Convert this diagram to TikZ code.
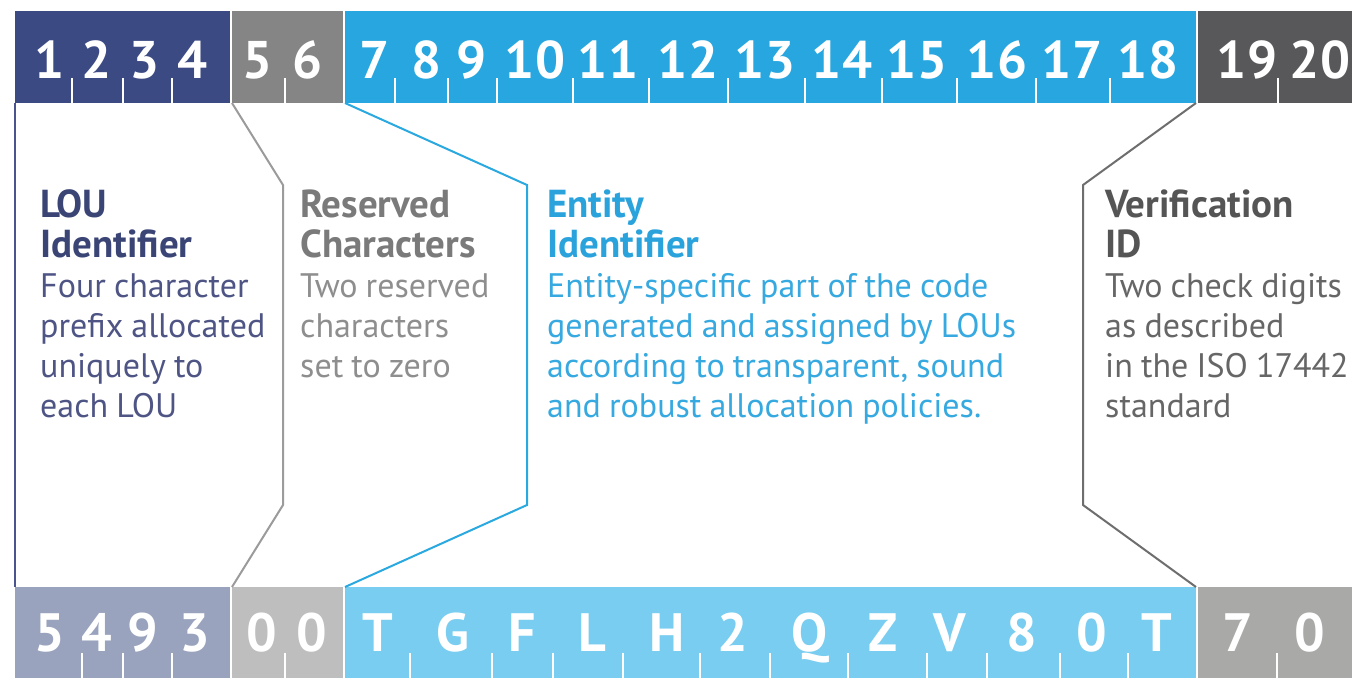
\documentclass[tikz,border=0pt]{standalone}
\usepackage{fontspec}
\setmainfont{PT Sans}
\usetikzlibrary{positioning}
\definecolor{louTop}{HTML}{3C4A84}
\definecolor{resTop}{HTML}{858585}
\definecolor{entTop}{HTML}{27A6DF}
\definecolor{verTop}{HTML}{58585A}
\definecolor{louBot}{HTML}{9AA3BE}
\definecolor{resBot}{HTML}{BEBEBE}
\definecolor{entBot}{HTML}{79CDF0}
\definecolor{verBot}{HTML}{A9A9A7}
\definecolor{louTitle}{HTML}{3A4576}
\definecolor{louBody}{HTML}{4E5585}
\definecolor{resTitle}{HTML}{7A7A7A}
\definecolor{resBody}{HTML}{8E8E8E}
\definecolor{entTitle}{HTML}{2AA3DD}
\definecolor{entBody}{HTML}{36A9E0}
\definecolor{verTitle}{HTML}{555555}
\definecolor{verBody}{HTML}{666666}
\definecolor{louLine}{HTML}{4A5590}
\definecolor{resLine}{HTML}{9B9B9B}
\definecolor{entLine}{HTML}{2AA8E0}
\definecolor{verLine}{HTML}{6E6E6E}
\newcommand{\ttl}[2]{{\fontsize{39}{40}\selectfont\bfseries\color{#1}#2}}
\newcommand{\tightsp}{\spaceskip=0.24em\relax}
\tikzset{
        seg/.style={rectangle, inner sep=0pt, outer sep=0pt},
        topseg/.style={seg, minimum height=92pt},
        botseg/.style={seg, minimum height=91pt},
        digit/.style={anchor=base, inner sep=0pt, text=white,
                      font=\bfseries\fontsize{53}{53}\selectfont},
        code/.style={digit, font=\bfseries\fontsize{54}{54}\selectfont},
        tick/.style={draw=white, line width=1.5pt},
        conn/.style={line width=2pt},
        desc/.style={anchor=base west, inner sep=0pt, align=left,
                     text width=#1, font=\fontsize{34}{40}\selectfont},
 }

\begin{document}
\begin{tikzpicture}[x=1pt, y=-1pt]
    \fill[white] (0,0) rectangle (1352,678);
    \useasboundingbox (0,0) rectangle (1352,678);

    % top bar
    \node[topseg, fill=louTop, minimum width=215pt, anchor=north west]
         (tlou) at (15,11) {};
    \node[topseg, fill=resTop, minimum width=111pt, right=2pt of tlou] (tres) {};
    \node[topseg, fill=entTop, minimum width=851pt, right=2pt of tres] (tent) {};
    \node[topseg, fill=verTop, minimum width=154pt, right=2pt of tent] (tver) {};

    % bottom bar
    \node[botseg, fill=louBot, minimum width=215pt, anchor=north west]
         (blou) at (15,587) {};
    \node[botseg, fill=resBot, minimum width=111pt, right=2pt of blou] (bres) {};
    \node[botseg, fill=entBot, minimum width=851pt, right=2pt of bres] (bent) {};
    \node[botseg, fill=verBot, minimum width=154pt, right=2pt of bent] (bver) {};

    \foreach \x in {72,123,172,285,395,448,497,573,649,728,805,882,957,1036,1110,1278}
        \draw[tick] (\x,78) -- (\x,103);
    \foreach \x in {82,123,172,285,410,492,553,623,700,770,848,927,987,1060,1128,1277}
        \draw[tick] (\x,653) -- (\x,678);

    \foreach \x/\d in {50/1,97/2,145/3,193/4,258/5,308/6,375/7,427/8,472/9,
                       535/10,608/11,688/12,765/13,842/14,917/15,997/16,
                       1072/17,1148/18,1247/19,1320/20}
        \node[digit] (d\d) at (\x,78) {\d};
    \foreach \x/\c [count=\i] in {50/5,97/4,143/9,195/3,262/0,312/0,378/T,
                       453/G,522/F,592/L,667/H,733/2,810/Q,883/Z,950/V,
                       1022/8,1092/0,1157/T,1238/7,1310/0}
        \node[code] (c\i) at (\x,651) {\c};

    % bends of the connectors
    \coordinate (resA) at (283,185);
    \coordinate (resB) at (283,505);
    \coordinate (entA) at (527,185);
    \coordinate (entB) at (527,505);
    \coordinate (verA) at (1083,185);
    \coordinate (verB) at (1083,505);

    \draw[conn, draw=louLine] (tlou.south west) -- (blou.north west);
    \draw[conn, draw=resLine] (tres.south west) -- (resA) -- (resB)
         -- (bres.north west);
    \draw[conn, draw=entLine] (tent.south west) -- (entA) -- (entB)
         -- (bent.north west);
    \draw[conn, draw=verLine] (tent.south east) -- (verA) -- (verB)
         -- (bent.north east);

    \node[desc=300pt, text=louBody] (lou) at (40,217)
         {\tightsp\ttl{louTitle}{LOU}\\ \ttl{louTitle}{Identifier}\\
          Four character\\ prefix allocated\\ uniquely to\\ each LOU};
    \node[desc=300pt, text=resBody] (res) at (300,217)
         {\tightsp\ttl{resTitle}{Reserved}\\ \ttl{resTitle}{Characters}\\
          Two reserved\\ characters\\ set to zero};
    \node[desc=560pt, text=entBody] (ent) at (547,217)
         {\tightsp\ttl{entTitle}{Entity}\\ \ttl{entTitle}{Identifier}\\
          Entity-specific part of the code\\ generated and assigned by LOUs\\
          according to transparent, sound\\ and robust allocation policies.};
    \node[desc=300pt, text=verBody] (ver) at (1105,217)
         {\tightsp\ttl{verTitle}{Verification}\\ \ttl{verTitle}{ID}\\
          Two check digits\\ as described\\ in the ISO 17442\\ standard};

\end{tikzpicture}
\end{document}
